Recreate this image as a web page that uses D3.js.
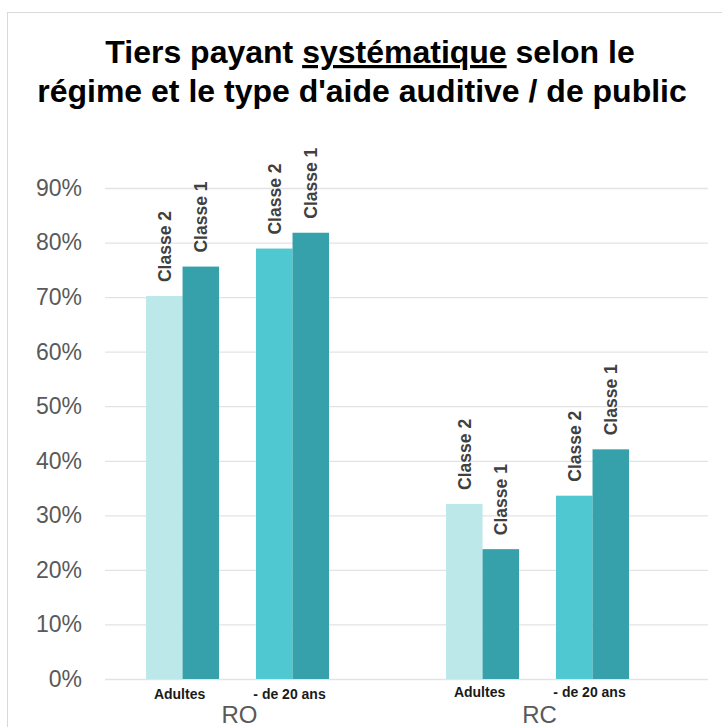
<!DOCTYPE html>
<html>
<head>
<meta charset="utf-8">
<script src="https://cdn.jsdelivr.net/npm/d3@7"></script>
<style>
  html, body { margin: 0; padding: 0; background: #fff; }
  svg { display: block; font-family: "Liberation Sans", Arial, sans-serif; }
</style>
</head>
<body>
<svg id="chart" width="722" height="727"></svg>
<script>
// Regimes, audiences and hearing-aid classes
const regimes = ["RO", "RC"];
const publics = ["Adultes", "- de 20 ans"];
const classes = ["Classe 2", "Classe 1"];

// Share of systematic third-party payment (%), per regime → public → class
const roAdultes = [70.2, 75.6];
const roMoins20 = [78.9, 81.8];
const rcAdultes = [32.1, 23.8];
const rcMoins20 = [33.6, 42.1];

const yTicks = [0, 10, 20, 30, 40, 50, 60, 70, 80, 90];

const series = { RO: [roAdultes, roMoins20], RC: [rcAdultes, rcMoins20] };

const rows = [];
regimes.forEach(r => publics.forEach((p, pi) => classes.forEach((c, ci) => {
  rows.push({ regime: r, public: p, classe: c, value: series[r][pi][ci] });
})));

// Colours: Classe 1 is dark teal; Classe 2 is pale for adults, bright for under-20s
function barColor(d) {
  if (d.classe === "Classe 1") return "#36a1ab";
  return d.public === "Adultes" ? "#bde8ea" : "#4fc8d1";
}

const svg = d3.select("#chart");

// Chart frame
svg.append("rect")
  .attr("x", 7.5).attr("y", 12.5)
  .attr("width", 740).attr("height", 740)
  .attr("fill", "#fff").attr("stroke", "#d9d9d9").attr("stroke-width", 1);

// Title
const title = svg.append("g")
  .attr("font-weight", "bold").attr("font-size", 32).attr("fill", "#000")
  .attr("text-anchor", "middle");
const t1 = title.append("text").attr("x", 370).attr("y", 63);
t1.append("tspan").text("Tiers payant ");
t1.append("tspan").attr("text-decoration", "underline").text("systématique");
t1.append("tspan").text(" selon le");
title.append("text").attr("x", 362).attr("y", 102)
  .text("régime et le type d'aide auditive / de public");

// Scales
const plotLeft = 105, plotRight = 708;
const y = d3.scaleLinear().domain([0, 90]).range([679, 188]);

const xRegime = d3.scaleBand().domain(regimes)
  .range([plotLeft, plotRight]).paddingInner(0.39).paddingOuter(0.2).align(0.342);
const xPublic = d3.scaleBand().domain(publics)
  .range([0, xRegime.bandwidth()]).paddingInner(0.336).paddingOuter(0);
const xClasse = d3.scaleBand().domain(classes)
  .range([0, xPublic.bandwidth()]).padding(0);

const barX = d => xRegime(d.regime) + xPublic(d.public) + xClasse(d.classe);

// Gridlines and y-axis labels
const yAxis = d3.axisLeft(y).tickValues(yTicks)
  .tickFormat(d => d + "%")
  .tickSize(-(plotRight - plotLeft)).tickPadding(23);
const gy = svg.append("g").attr("transform", `translate(${plotLeft},0)`).call(yAxis);
gy.select(".domain").remove();
gy.selectAll(".tick line").attr("stroke", "#e3e3e3").attr("stroke-width", 1.3);
gy.selectAll(".tick text")
  .attr("font-size", 23).attr("fill", "#595959")
  .attr("font-family", "'Liberation Sans', Arial, sans-serif");

// Bars
svg.append("g").selectAll("rect").data(rows).join("rect")
  .attr("x", barX)
  .attr("y", d => y(d.value))
  .attr("width", xClasse.bandwidth())
  .attr("height", d => y(0) - y(d.value))
  .attr("fill", barColor);

// Class labels above each bar, rotated
svg.append("g").selectAll("text").data(rows).join("text")
  .attr("transform", d => `translate(${barX(d) + xClasse.bandwidth() / 2},${y(d.value) - 14}) rotate(-90)`)
  .attr("dy", "0.36em")
  .attr("font-size", 17.5).attr("font-weight", "bold").attr("fill", "#404040")
  .text(d => d.classe);

// Public labels under each pair of bars
const pubLabels = [];
regimes.forEach(r => publics.forEach(p => pubLabels.push({ regime: r, public: p })));
svg.append("g").selectAll("text").data(pubLabels).join("text")
  .attr("x", d => xRegime(d.regime) + xPublic(d.public) + xPublic.bandwidth() / 2 - 3)
  .attr("y", d => d.regime === "RO" ? 699 : 697)
  .attr("text-anchor", "middle")
  .attr("font-size", 14).attr("font-weight", "bold").attr("fill", "#1a1a1a")
  .text(d => d.public);

// Regime labels
svg.append("g").selectAll("text").data(regimes).join("text")
  .attr("x", d => xRegime(d) + xRegime.bandwidth() / 2 + 2)
  .attr("y", 723)
  .attr("text-anchor", "middle")
  .attr("font-size", 24).attr("fill", "#595959")
  .text(d => d);
</script>
</body>
</html>
